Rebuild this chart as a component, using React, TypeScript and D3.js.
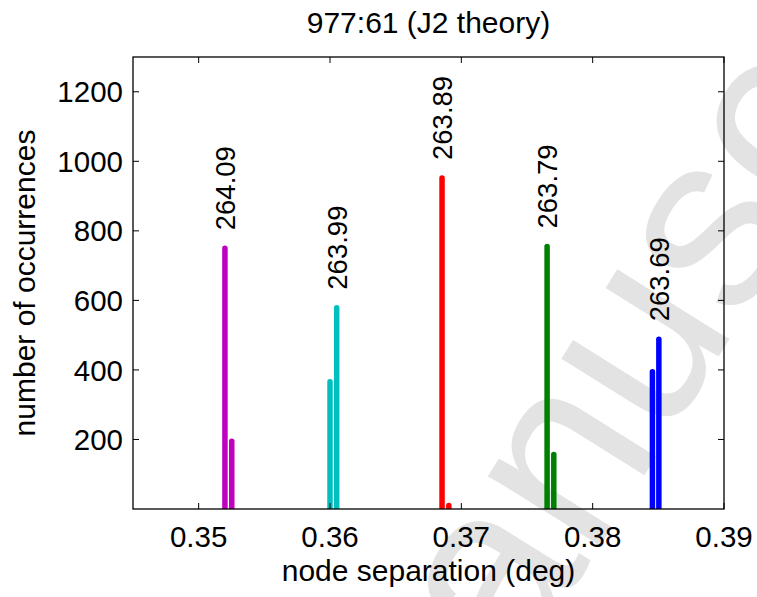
import * as d3 from "d3";

// peak labels (one per colour group)
const groupLabels = ["264.09", "263.99", "263.89", "263.79", "263.69"];
const groupColors = ["#bf00bf", "#00bfbf", "#ff0000", "#008000", "#0000ff"];
// node separation (deg) of each stem, two per group
const separations = [
  [0.352, 0.35252],
  [0.36, 0.36051],
  [0.36853, 0.36905],
  [0.37653, 0.37704],
  [0.38455, 0.38504],
];
// number of occurrences of each stem
const occurrences = [
  [750, 195],
  [366, 579],
  [952, 10],
  [755, 157],
  [395, 488],
];
const xTicks = [0.35, 0.36, 0.37, 0.38, 0.39];
const yTicks = [200, 400, 600, 800, 1000, 1200];

const width = 757;
const height = 597;
const marginLeft = 133;
const marginRight = 33;
const marginTop = 57;
const marginBottom = 88;

export default function App() {
  const x = d3.scaleLinear([0.345, 0.39], [marginLeft, width - marginRight]);
  const y = d3.scaleLinear([0, 1300], [height - marginBottom, marginTop]);
  const x0 = marginLeft;
  const x1 = width - marginRight;
  const y0 = height - marginBottom;
  const y1 = marginTop;
  const font = "Liberation Sans, Arial, Helvetica, sans-serif";

  return (
    <div style={{ position: "absolute", left: 0, top: 0 }}>
      <svg width={width} height={height} style={{ display: "block", background: "white" }} fontFamily={font}>
        <defs>
          <clipPath id="plot">
            <rect x={x0} y={y1} width={x1 - x0} height={y0 - y1} />
          </clipPath>
        </defs>
        {/* faint watermark */}
        <text
          transform="translate(407,855) rotate(-58)"
          fontSize={250}
          fill="#e3e3e3"
        >
          Manuscript
        </text>

        <g clipPath="url(#plot)" strokeLinecap="round" strokeWidth={5.5}>
          {separations.map((pair, g) =>
            pair.map((s, k) => (
              <line
                key={`${g}-${k}`}
                x1={x(s)}
                x2={x(s)}
                y1={y(0) + 4}
                y2={y(occurrences[g][k])}
                stroke={groupColors[g]}
              />
            ))
          )}
        </g>

        {groupLabels.map((lab, g) => {
          const k = occurrences[g][0] >= occurrences[g][1] ? 0 : 1;
          const lx = x(separations[g][k]);
          const ly = y(occurrences[g][k]) - 18;
          return (
            <text
              key={lab}
              transform={`translate(${lx},${ly}) rotate(-90)`}
              dy="0.36em"
              fontSize={27.5}
              fill="#000"
            >
              {lab}
            </text>
          );
        })}

        {/* box */}
        <rect x={x0} y={y1} width={x1 - x0} height={y0 - y1} fill="none" stroke="#000" strokeWidth={1.3} />
        {xTicks.map((t) => (
          <g key={t}>
            <line x1={x(t)} x2={x(t)} y1={y0} y2={y0 - 6} stroke="#000" strokeWidth={1} />
            <line x1={x(t)} x2={x(t)} y1={y1} y2={y1 + 6} stroke="#000" strokeWidth={1} />
            <text x={x(t)} y={546.5} textAnchor="middle" fontSize={29.5}>
              {d3.format(".2f")(t)}
            </text>
          </g>
        ))}
        {yTicks.map((t) => (
          <g key={t}>
            <line x1={x0} x2={x0 + 6} y1={y(t)} y2={y(t)} stroke="#000" strokeWidth={1} />
            <line x1={x1} x2={x1 - 6} y1={y(t)} y2={y(t)} stroke="#000" strokeWidth={1} />
            <text x={x0 - 10} y={y(t)} dy="0.36em" textAnchor="end" fontSize={29.5}>
              {t}
            </text>
          </g>
        ))}

        <text x={(x0 + x1) / 2} y={32.5} textAnchor="middle" fontSize={30}>
          977:61 (J2 theory)
        </text>
        <text x={(x0 + x1) / 2} y={581} textAnchor="middle" fontSize={30}>
          node separation (deg)
        </text>
        <text transform={`translate(35,${(y0 + y1) / 2}) rotate(-90)`} textAnchor="middle" fontSize={30}>
          number of occurrences
        </text>
      </svg>
    </div>
  );
}
